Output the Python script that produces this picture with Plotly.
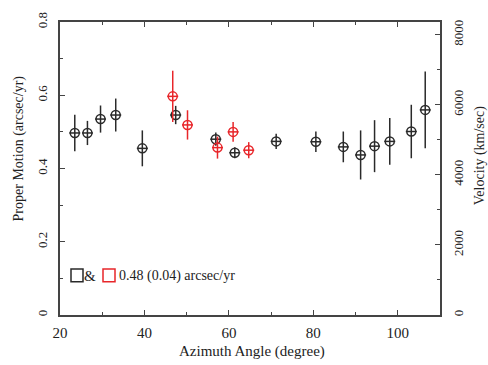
import plotly.graph_objects as go

# Black series (azimuth deg, proper motion arcsec/yr, error)
black_az = [23.5, 26.5, 29.6, 33.2, 39.5, 47.4, 56.9, 61.4, 71.2, 80.6, 87.1, 91.2, 94.5, 98.1, 103.2, 106.5]
black_pm = [0.497, 0.497, 0.535, 0.546, 0.455, 0.546, 0.480, 0.443, 0.474, 0.473, 0.459, 0.437, 0.461, 0.474, 0.501, 0.560]
black_err = [0.050, 0.033, 0.037, 0.045, 0.049, 0.025, 0.018, 0.015, 0.021, 0.028, 0.042, 0.067, 0.071, 0.064, 0.073, 0.105]
black_xerr = [1.3] * 16

# Red series
red_az = [46.7, 50.2, 57.3, 61.0, 64.7]
red_pm = [0.597, 0.519, 0.457, 0.500, 0.450]
red_err = [0.070, 0.040, 0.030, 0.027, 0.022]
red_xerr = [1.3] * 5

legend_text = "0.48 (0.04) arcsec/yr"

FONT = "Liberation Serif"
BLACK = "#2a2a2a"
RED = "#e8262a"

W, H = 488, 365
L, R, T, B = 60, 48, 16, 50
PW, PH = W - L - R, H - T - B


def px(x):
    return (x - L) / PW


def py(y):
    return (H - B - y) / PH


fig = go.Figure()

fig.add_trace(go.Scatter(
    x=black_az, y=black_pm, mode="markers",
    marker=dict(symbol="circle-open", size=9, color=BLACK, line=dict(width=1.5, color=BLACK)),
    error_y=dict(type="data", array=black_err, color=BLACK, thickness=1.5, width=0),
    error_x=dict(type="data", array=black_xerr, color=BLACK, thickness=1.5, width=0),
    showlegend=False,
))
fig.add_trace(go.Scatter(
    x=red_az, y=red_pm, mode="markers",
    marker=dict(symbol="circle-open", size=9, color=RED, line=dict(width=1.5, color=RED)),
    error_y=dict(type="data", array=red_err, color=RED, thickness=1.5, width=0),
    error_x=dict(type="data", array=red_xerr, color=RED, thickness=1.5, width=0),
    showlegend=False,
))
# invisible trace for right axis
fig.add_trace(go.Scatter(x=[None], y=[None], yaxis="y2", showlegend=False))

tickfont = dict(family=FONT, size=13, color="#222")


def ann(text, x, y, size=14, angle=0, xanchor="center"):
    return dict(text=text, xref="paper", yref="paper", x=px(x), y=py(y),
                xanchor=xanchor, yanchor="middle", textangle=angle,
                showarrow=False, font=dict(family=FONT, size=size, color="#222"))


fig.update_layout(
    width=W, height=H,
    margin=dict(l=L, r=R, t=T, b=B),
    plot_bgcolor="white", paper_bgcolor="white",
    font=dict(family=FONT, size=13, color="#222"),
    xaxis=dict(
        range=[20, 110], tickvals=[20, 40, 60, 80, 100],
        ticks="inside", ticklen=5, tickwidth=1.2, tickcolor="#444",
        minor=dict(tickvals=[30, 50, 70, 90], ticks="inside", ticklen=3, tickwidth=1.2, tickcolor="#444"),
        showline=True, linecolor="#444", linewidth=1.5, mirror="ticks",
        showgrid=False, zeroline=False, tickfont=dict(family=FONT, size=15, color="#222"),
        ticklabelstandoff=3,
    ),
    yaxis=dict(
        range=[0, 0.8], tickvals=[0, 0.2, 0.4, 0.6, 0.8], ticktext=["0", "0.2", "0.4", "0.6", "0.8"],
        ticks="inside", ticklen=5, tickwidth=1.2, tickcolor="#444",
        minor=dict(tickvals=[0.1, 0.3, 0.5, 0.7], ticks="inside", ticklen=3, tickwidth=1.2, tickcolor="#444"),
        showline=True, linecolor="#444", linewidth=1.5, mirror=False,
        showgrid=False, zeroline=False, tickangle=-90, tickfont=tickfont, ticklabelstandoff=6,
    ),
    yaxis2=dict(
        overlaying="y", side="right", range=[0, 8360],
        tickvals=[0, 2000, 4000, 6000, 8000],
        ticks="inside", ticklen=5, tickwidth=1.2, tickcolor="#444",
        minor=dict(tickvals=[1000, 3000, 5000, 7000], ticks="inside", ticklen=3, tickwidth=1.2, tickcolor="#444"),
        showline=True, linecolor="#444", linewidth=1.5,
        showgrid=False, zeroline=False, tickangle=-90, tickfont=tickfont, ticklabelstandoff=6,
    ),
    annotations=[
        ann("Azimuth Angle (degree)", 252, 352, size=15),
        ann("Proper Motion (arcsec/yr)", 19, 145, size=14, angle=-90),
        ann("Velocity (km/sec)", 480, 153, size=14, angle=-90),
        ann("&", 90, 275, size=15),
        ann(legend_text, 117, 275, size=14, xanchor="left"),
    ],
    shapes=[
        dict(type="rect", xref="paper", yref="paper", x0=px(71), x1=px(83), y0=py(281), y1=py(268),
             line=dict(color=BLACK, width=1.5)),
        dict(type="rect", xref="paper", yref="paper", x0=px(103), x1=px(115), y0=py(281), y1=py(268),
             line=dict(color=RED, width=1.5)),
    ],
)

fig.write_html("out.html")
